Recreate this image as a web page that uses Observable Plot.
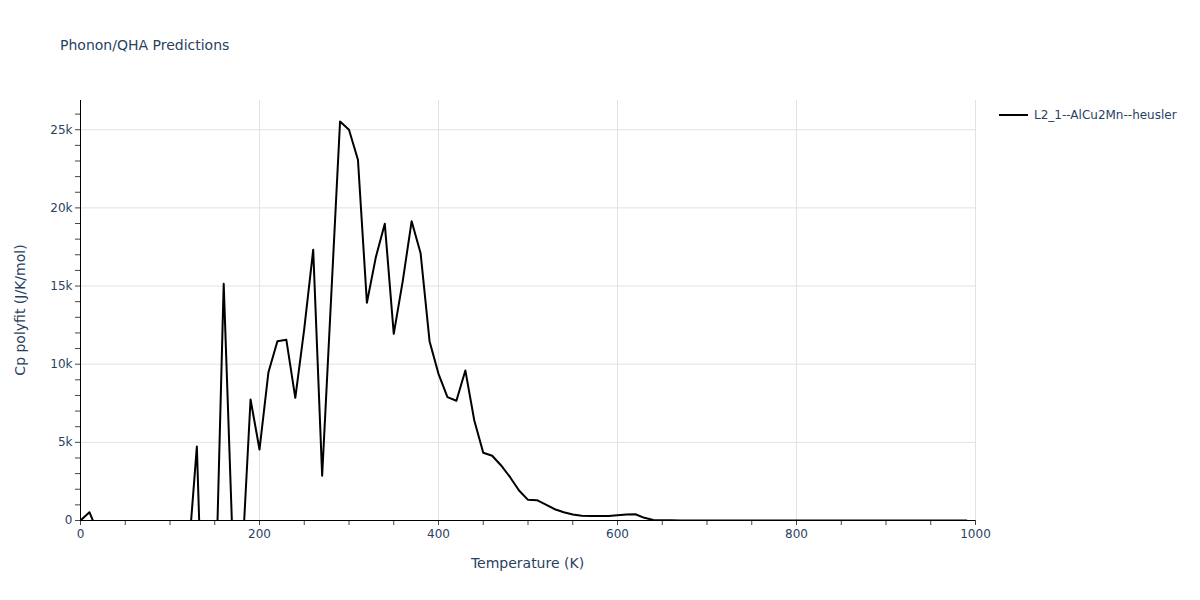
<!DOCTYPE html>
<html>
<head>
<meta charset="utf-8">
<script src="https://cdn.jsdelivr.net/npm/d3@7"></script>
<script src="https://cdn.jsdelivr.net/npm/@observablehq/plot@0.6"></script>
<style>
  html, body { margin: 0; padding: 0; background: white; }
  #chart { width: 1200px; height: 600px; }
</style>
</head>
<body>
<div id="chart"></div>
<script>
const title = "Phonon/QHA Predictions";
const seriesName = "L2_1--AlCu2Mn--heusler";
const xLabel = "Temperature (K)";
const yLabel = "Cp polyfit (J/K/mol)";

const temperature = [0,10,20,30,40,50,60,70,80,90,100,110,120,130,140,150,160,170,180,190,200,210,220,230,240,250,260,270,280,290,300,310,320,330,340,350,360,370,380,390,400,410,420,430,440,450,460,470,480,490,500,510,520,530,540,550,560,570,580,590,600,610,620,630,640,650,660,670,680,690,700,710,720,730,740,750,760,770,780,790,800,810,820,830,840,850,860,870,880,890,900,910,920,930,940,950,960,970,980,990];
const cp = [0,530,-865,-2100,-3000,-3500,-3800,-4000,-4200,-4500,-4300,-3800,-2660,4730,-13460,-6800,15140,-1500,-3160,7740,4540,9490,11470,11560,7850,12260,17320,2860,14200,25530,25000,23080,13930,16850,18980,11940,15300,19150,17100,11470,9380,7890,7660,9600,6400,4330,4140,3520,2770,1920,1320,1300,1020,720,530,380,300,290,280,290,340,380,400,170,40,15,10,8,6,5,4,3,3,2,2,2,2,1,1,1,1,1,1,1,1,1,1,1,1,1,1,1,1,1,1,1,1,1,1,1];

const xTicks = [0,50,100,150,200,250,300,350,400,450,500,550,600,650,700,750,800,850,900,950,1000];
const xMajor = [0,200,400,600,800,1000];
const yTicks = [0,1000,2000,3000,4000,5000,6000,7000,8000,9000,10000,11000,12000,13000,14000,15000,16000,17000,18000,19000,20000,21000,22000,23000,24000,25000,26000];
const yMajor = [0,5000,10000,15000,20000,25000];

const data = temperature.map((t, i) => ({t, v: cp[i]}));
const textColor = "#2a3f5f";
const gridColor = "#e2e2e2";
const font = "Verdana, 'DejaVu Sans', sans-serif";

const chart = Plot.plot({
  width: 1200,
  height: 600,
  marginLeft: 80,
  marginRight: 225,
  marginTop: 100,
  marginBottom: 80,
  style: {fontFamily: font, fontSize: "12px", color: textColor, background: "white"},
  x: {domain: [0, 1000]},
  y: {domain: [0, 26870]},
  marks: [
    Plot.gridX(xMajor.filter(d => d > 0), {stroke: gridColor, strokeOpacity: 1, strokeWidth: 1}),
    Plot.gridY(yMajor.filter(d => d > 0), {stroke: gridColor, strokeOpacity: 1, strokeWidth: 1}),
    Plot.axisX(xTicks, {
      tickSize: 5, tickPadding: 4, stroke: "#444", color: textColor, label: null,
      tickFormat: d => xMajor.includes(d) ? String(d) : ""
    }),
    Plot.axisY(yTicks, {
      tickSize: 5, tickPadding: 3, stroke: "#444", color: textColor, label: null,
      tickFormat: d => yMajor.includes(d) ? (d === 0 ? "0" : (d / 1000) + "k") : ""
    }),
    Plot.line(data, {x: "t", y: "v", stroke: "black", strokeWidth: 2, clip: true}),
    Plot.ruleX([0], {stroke: "black", strokeWidth: 1}),
    Plot.ruleY([0], {stroke: "black", strokeWidth: 1})
  ]
});

document.getElementById("chart").appendChild(chart);

const svg = d3.select(chart);
svg.append("text").attr("x", 60).attr("y", 50).attr("fill", textColor).attr("text-anchor", "start")
  .style("font-family", font).style("font-size", "14px").text(title);
svg.append("text").attr("x", 527.5).attr("y", 568).attr("text-anchor", "middle").attr("fill", textColor)
  .style("font-family", font).style("font-size", "14px").text(xLabel);
svg.append("text").attr("transform", "translate(25,310) rotate(-90)").attr("text-anchor", "middle").attr("fill", textColor)
  .style("font-family", font).style("font-size", "14px").text(yLabel);
svg.append("line").attr("x1", 999).attr("x2", 1028).attr("y1", 115).attr("y2", 115)
  .attr("stroke", "black").attr("stroke-width", 2);
svg.append("text").attr("x", 1034).attr("y", 119).attr("fill", textColor).attr("text-anchor", "start")
  .style("font-family", font).style("font-size", "12px").text(seriesName);
</script>
</body>
</html>
